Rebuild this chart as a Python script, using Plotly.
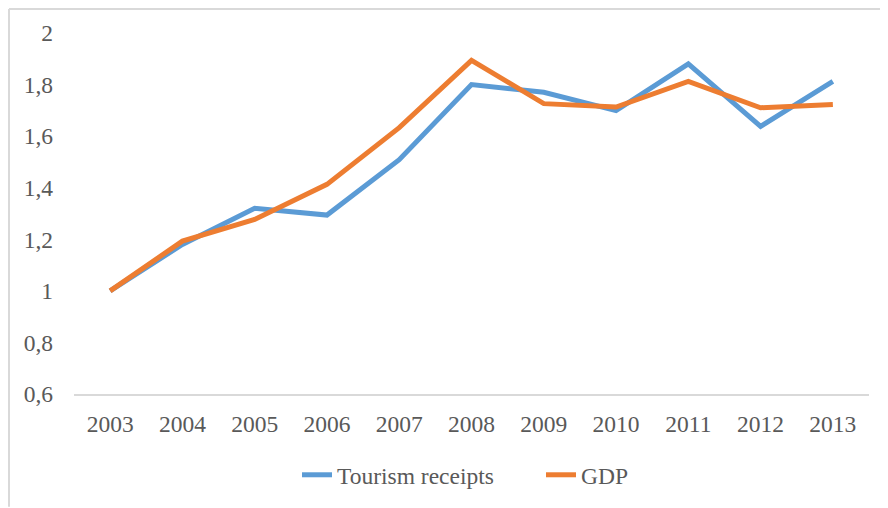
import plotly.graph_objects as go

years = ["2003", "2004", "2005", "2006", "2007", "2008", "2009", "2010", "2011", "2012", "2013"]
tourism = [1.0, 1.18, 1.32, 1.294, 1.509, 1.80, 1.77, 1.699, 1.88, 1.638, 1.812]
gdp = [1.0, 1.193, 1.277, 1.413, 1.633, 1.894, 1.726, 1.713, 1.812, 1.71, 1.723]
y_ticks = [0.6, 0.8, 1.0, 1.2, 1.4, 1.6, 1.8, 2.0]
y_labels = ["0,6", "0,8", "1", "1,2", "1,4", "1,6", "1,8", "2"]

# page has an 8px body margin; figure coordinates = page - 8
OFF = 8
W, H = 888 - OFF, 508 - OFF
ml, mr, mt, mb = 74 - OFF, 19, 33 - OFF, 113
pw, ph = W - ml - mr, H - mt - mb

def px(x):
    return (x - OFF - ml) / pw

def py(y):
    return (H - mb - (y - OFF)) / ph

FAM = '"Liberation Serif", "Times New Roman", serif'
GRAY = "#595959"

fig = go.Figure()
fig.add_trace(go.Scatter(x=years, y=tourism, mode="lines", name="Tourism receipts",
                         line=dict(color="#5B9BD5", width=5)))
fig.add_trace(go.Scatter(x=years, y=gdp, mode="lines", name="GDP",
                         line=dict(color="#ED7D31", width=5)))

fig.update_layout(
    width=W, height=H,
    margin=dict(l=ml, r=mr, t=mt, b=mb),
    paper_bgcolor="white", plot_bgcolor="white",
    font=dict(family=FAM, size=23.5, color=GRAY),
    showlegend=True,
    legend=dict(orientation="h", x=px(297), xanchor="left", y=py(475), yanchor="middle",
                font=dict(family=FAM, size=23.5, color=GRAY),
                itemwidth=30, tracegroupgap=0, entrywidth=199, entrywidthmode="pixels"),
    xaxis=dict(type="category", range=[-0.5, 10.5], showgrid=False, showline=True,
               linecolor="#D9D9D9", linewidth=2, ticks="", ticklabelstandoff=8,
               tickfont=dict(family=FAM, size=23.5, color=GRAY)),
    yaxis=dict(range=[0.6, 2.0], tickvals=y_ticks, ticktext=y_labels, showgrid=False,
               showline=False, zeroline=False, ticks="", ticklabelstandoff=20,
               tickfont=dict(family=FAM, size=23.5, color=GRAY)),
    shapes=[
        dict(type="line", xref="paper", yref="paper", x0=px(9), x1=px(888), y0=py(9), y1=py(9),
             line=dict(color="#D9D9D9", width=2)),
        dict(type="line", xref="paper", yref="paper", x0=px(9), x1=px(9), y0=py(9), y1=py(508),
             line=dict(color="#D9D9D9", width=2)),
    ],
)

fig.write_html("out.html")
